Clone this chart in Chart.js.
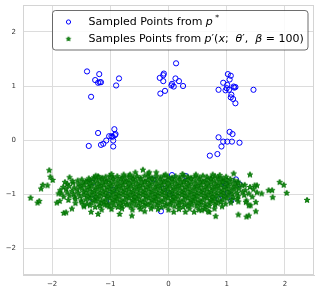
<!DOCTYPE html>
<html>
<head>
<meta charset="utf-8">
<script src="https://cdn.jsdelivr.net/npm/chart.js@4.4.1/dist/chart.umd.min.js"></script>
<style>
  html, body { margin: 0; padding: 0; background: #fff; }
  canvas { display: block; }
</style>
</head>
<body>
<canvas id="scatterChart" width="319" height="294"></canvas>
<script>
// tick positions of both axes
var xTicks = [-2, -1, 0, 1, 2];
var yTicks = [-2, -1, 0, 1, 2];

// sampled points from p* (blue circles)
var sampledPoints = [
    [-1.40, 1.27], [-1.19, 1.22], [-1.26, 1.11], [-1.18, 1.07], [-1.16, 1.07], [-0.85, 1.14], [-0.90, 1.01], [-1.33, 0.80], [-1.21, 1.06],
    [0.13, 1.42], [-0.08, 1.23], [-0.09, 1.20], [-0.15, 1.15], [-0.09, 1.09], [0.12, 1.14], [0.18, 1.09], [0.06, 1.04], [0.09, 0.99], [0.05, 1.01], [0.25, 1.00], [-0.06, 0.91], [-0.14, 0.86],
    [1.02, 1.22], [1.07, 1.19], [1.05, 1.12], [0.94, 1.06], [1.01, 1.02], [1.12, 0.99], [1.15, 0.98], [0.86, 0.93], [0.98, 0.92], [1.04, 0.93], [1.08, 0.84], [1.07, 0.79], [1.11, 0.76], [1.15, 0.68], [1.46, 0.93], [1.00, 0.96], [1.13, 0.97],
    [-1.21, 0.13], [-0.93, 0.20], [-0.91, 0.11], [-0.98, 0.07], [-1.02, 0.07], [-0.96, 0.06], [-1.07, -0.01], [-0.95, -0.01], [-1.12, -0.07], [-1.16, -0.09], [-1.37, -0.11], [-0.95, -0.12], [-0.92, 0.09],
    [0.86, 0.05], [1.05, 0.15], [1.10, 0.11], [0.94, -0.03], [1.01, -0.03], [1.09, -0.03], [1.22, -0.05], [0.91, -0.12], [0.71, -0.29], [0.84, -0.26],
    [-1.31, -0.79], [-1.31, -1.09], [-1.07, -1.15], [-0.95, -0.92], [-1.02, -1.02],
    [-0.26, -0.73], [0.06, -0.65], [0.30, -0.67], [-0.13, -1.32], [0.02, -1.00], [-0.08, -0.90],
    [0.97, -0.81], [0.99, -0.84], [1.16, -0.73], [1.22, -0.82], [0.86, -1.09], [1.08, -1.12], [1.02, -0.98]
];

// samples from p'(x; theta', beta=100), dense band (green stars)
var modelCore = [
    [-1.28,-0.69],[-1.21,-0.67],[-1.14,-0.70],[-1.08,-0.68],[-1.01,-0.66],[-0.95,-0.69],[-0.88,-0.67],[-0.81,-0.70],[-0.75,-0.68],[-0.68,-0.66],[-0.61,-0.69],[-0.54,-0.67],[-0.48,-0.70],[-0.41,-0.66],[-0.34,-0.68],[-0.28,-0.70],[-0.21,-0.67],[-0.14,-0.69],[-0.08,-0.66],[-0.01,-0.68],[0.06,-0.70],[0.12,-0.67],[0.19,-0.69],[0.26,-0.66],[0.33,-0.68],[0.39,-0.70],[0.46,-0.67],[0.53,-0.69],[0.59,-0.66],[0.66,-0.68],[0.73,-0.70],[0.80,-0.67],[0.86,-0.69],[0.93,-0.71],[0.99,-0.68],
    [-1.56,-0.75],[-1.49,-0.73],[-1.42,-0.76],[-1.35,-0.74],[-1.29,-0.72],[-1.22,-0.75],[-1.15,-0.73],[-1.08,-0.76],[-1.02,-0.74],[-0.95,-0.72],[-0.88,-0.75],[-0.82,-0.73],[-0.75,-0.76],[-0.68,-0.74],[-0.61,-0.72],[-0.55,-0.75],[-0.48,-0.73],[-0.41,-0.76],[-0.35,-0.74],[-0.28,-0.72],[-0.21,-0.75],[-0.14,-0.73],[-0.08,-0.76],[-0.01,-0.74],[0.06,-0.72],[0.12,-0.75],[0.19,-0.73],[0.26,-0.76],[0.32,-0.74],[0.39,-0.72],[0.46,-0.75],[0.53,-0.73],[0.59,-0.76],[0.66,-0.74],[0.73,-0.72],[0.79,-0.75],[0.86,-0.73],[0.93,-0.76],[1.00,-0.74],[1.06,-0.72],[1.13,-0.75],[1.19,-0.77],
    [-1.74,-0.81],[-1.64,-0.79],[-1.55,-0.82],[-1.48,-0.80],[-1.41,-0.78],[-1.35,-0.81],[-1.28,-0.79],[-1.21,-0.82],[-1.15,-0.80],[-1.08,-0.78],[-1.01,-0.81],[-0.95,-0.79],[-0.88,-0.82],[-0.81,-0.80],[-0.74,-0.78],[-0.68,-0.81],[-0.61,-0.79],[-0.54,-0.82],[-0.48,-0.80],[-0.41,-0.78],[-0.34,-0.81],[-0.28,-0.79],[-0.21,-0.82],[-0.14,-0.80],[-0.07,-0.78],[-0.01,-0.81],[0.06,-0.79],[0.13,-0.82],[0.19,-0.80],[0.26,-0.78],[0.33,-0.81],[0.39,-0.79],[0.46,-0.82],[0.53,-0.80],[0.60,-0.78],[0.66,-0.81],[0.73,-0.79],[0.80,-0.82],[0.86,-0.80],[0.93,-0.78],[1.00,-0.81],[1.06,-0.79],[1.13,-0.82],[1.20,-0.80],[1.31,-0.83],
    [-1.81,-0.87],[-1.71,-0.85],[-1.62,-0.88],[-1.52,-0.86],[-1.45,-0.84],[-1.38,-0.87],[-1.32,-0.85],[-1.25,-0.88],[-1.18,-0.86],[-1.11,-0.84],[-1.05,-0.87],[-0.98,-0.85],[-0.91,-0.88],[-0.85,-0.86],[-0.78,-0.84],[-0.71,-0.87],[-0.64,-0.85],[-0.58,-0.88],[-0.51,-0.86],[-0.44,-0.84],[-0.38,-0.87],[-0.31,-0.85],[-0.24,-0.88],[-0.18,-0.86],[-0.11,-0.84],[-0.04,-0.87],[0.03,-0.85],[0.09,-0.88],[0.16,-0.86],[0.23,-0.84],[0.29,-0.87],[0.36,-0.85],[0.43,-0.88],[0.49,-0.86],[0.56,-0.84],[0.63,-0.87],[0.70,-0.85],[0.76,-0.88],[0.83,-0.86],[0.90,-0.84],[0.96,-0.87],[1.03,-0.85],[1.10,-0.88],[1.17,-0.86],[1.26,-0.84],[1.40,-0.87],
    [-1.86,-0.93],[-1.76,-0.91],[-1.66,-0.94],[-1.57,-0.92],[-1.49,-0.90],[-1.42,-0.93],[-1.35,-0.91],[-1.28,-0.94],[-1.22,-0.92],[-1.15,-0.90],[-1.08,-0.93],[-1.01,-0.91],[-0.95,-0.94],[-0.88,-0.92],[-0.81,-0.90],[-0.75,-0.93],[-0.68,-0.91],[-0.61,-0.94],[-0.54,-0.92],[-0.48,-0.90],[-0.41,-0.93],[-0.34,-0.91],[-0.28,-0.94],[-0.21,-0.92],[-0.14,-0.90],[-0.08,-0.93],[-0.01,-0.91],[0.06,-0.94],[0.12,-0.92],[0.19,-0.90],[0.26,-0.93],[0.33,-0.91],[0.39,-0.94],[0.46,-0.92],[0.53,-0.90],[0.59,-0.93],[0.66,-0.91],[0.73,-0.94],[0.79,-0.92],[0.86,-0.90],[0.93,-0.93],[1.00,-0.91],[1.06,-0.94],[1.13,-0.92],[1.21,-0.90],[1.32,-0.93],[1.46,-0.91],
    [-1.84,-0.99],[-1.74,-0.97],[-1.63,-1.00],[-1.55,-0.98],[-1.46,-0.96],[-1.39,-0.99],[-1.32,-0.97],[-1.25,-1.00],[-1.18,-0.98],[-1.12,-0.96],[-1.05,-0.99],[-0.98,-0.97],[-0.91,-1.00],[-0.85,-0.98],[-0.78,-0.96],[-0.71,-0.99],[-0.65,-0.97],[-0.58,-1.00],[-0.51,-0.98],[-0.44,-0.96],[-0.38,-0.99],[-0.31,-0.97],[-0.24,-1.00],[-0.18,-0.98],[-0.11,-0.96],[-0.04,-0.99],[0.02,-0.97],[0.09,-1.00],[0.16,-0.98],[0.23,-0.96],[0.29,-0.99],[0.36,-0.97],[0.43,-1.00],[0.49,-0.98],[0.56,-0.96],[0.63,-0.99],[0.69,-0.97],[0.76,-1.00],[0.83,-0.98],[0.90,-0.96],[0.96,-0.99],[1.03,-0.97],[1.10,-1.00],[1.18,-0.98],[1.27,-0.96],[1.38,-0.99],[1.52,-0.97],
    [-1.80,-1.05],[-1.70,-1.03],[-1.61,-1.06],[-1.52,-1.04],[-1.45,-1.02],[-1.38,-1.05],[-1.32,-1.03],[-1.25,-1.06],[-1.18,-1.04],[-1.11,-1.02],[-1.05,-1.05],[-0.98,-1.03],[-0.91,-1.06],[-0.85,-1.04],[-0.78,-1.02],[-0.71,-1.05],[-0.64,-1.03],[-0.58,-1.06],[-0.51,-1.04],[-0.44,-1.02],[-0.38,-1.05],[-0.31,-1.03],[-0.24,-1.06],[-0.18,-1.04],[-0.11,-1.02],[-0.04,-1.05],[0.03,-1.03],[0.09,-1.06],[0.16,-1.04],[0.23,-1.02],[0.29,-1.05],[0.36,-1.03],[0.43,-1.06],[0.49,-1.04],[0.56,-1.02],[0.63,-1.05],[0.70,-1.03],[0.76,-1.06],[0.83,-1.04],[0.90,-1.02],[0.96,-1.05],[1.03,-1.03],[1.11,-1.06],[1.20,-1.04],[1.30,-1.02],[1.44,-1.05],
    [-1.72,-1.11],[-1.60,-1.09],[-1.50,-1.12],[-1.42,-1.10],[-1.35,-1.08],[-1.28,-1.11],[-1.22,-1.09],[-1.15,-1.12],[-1.08,-1.10],[-1.01,-1.08],[-0.95,-1.11],[-0.88,-1.09],[-0.81,-1.12],[-0.75,-1.10],[-0.68,-1.08],[-0.61,-1.11],[-0.54,-1.09],[-0.48,-1.12],[-0.41,-1.10],[-0.34,-1.08],[-0.28,-1.11],[-0.21,-1.09],[-0.14,-1.12],[-0.08,-1.10],[-0.01,-1.08],[0.06,-1.11],[0.12,-1.09],[0.19,-1.12],[0.26,-1.10],[0.33,-1.08],[0.39,-1.11],[0.46,-1.09],[0.53,-1.12],[0.59,-1.10],[0.66,-1.08],[0.73,-1.11],[0.79,-1.09],[0.86,-1.12],[0.93,-1.10],[1.00,-1.08],[1.08,-1.11],[1.18,-1.09],[1.34,-1.12],
    [-1.60,-1.17],[-1.49,-1.15],[-1.40,-1.18],[-1.32,-1.16],[-1.25,-1.14],[-1.18,-1.17],[-1.11,-1.15],[-1.05,-1.18],[-0.98,-1.16],[-0.91,-1.14],[-0.85,-1.17],[-0.78,-1.15],[-0.71,-1.18],[-0.64,-1.16],[-0.58,-1.14],[-0.51,-1.17],[-0.44,-1.15],[-0.38,-1.18],[-0.31,-1.16],[-0.24,-1.14],[-0.18,-1.17],[-0.11,-1.15],[-0.04,-1.18],[0.03,-1.16],[0.09,-1.14],[0.16,-1.17],[0.23,-1.15],[0.29,-1.18],[0.36,-1.16],[0.43,-1.14],[0.49,-1.17],[0.56,-1.15],[0.63,-1.18],[0.70,-1.16],[0.76,-1.14],[0.83,-1.17],[0.90,-1.15],[0.98,-1.18],[1.07,-1.16],[1.20,-1.14],
    [-1.45,-1.23],[-1.35,-1.21],[-1.26,-1.24],[-1.18,-1.22],[-1.10,-1.20],[-1.02,-1.23],[-0.94,-1.21],[-0.87,-1.24],[-0.80,-1.22],[-0.72,-1.20],[-0.65,-1.23],[-0.57,-1.21],[-0.50,-1.24],[-0.42,-1.22],[-0.35,-1.20],[-0.27,-1.23],[-0.20,-1.21],[-0.12,-1.24],[-0.05,-1.22],[0.03,-1.20],[0.10,-1.23],[0.18,-1.21],[0.25,-1.24],[0.33,-1.22],[0.40,-1.20],[0.48,-1.23],[0.55,-1.21],[0.63,-1.24],[0.70,-1.22],[0.80,-1.20],[0.92,-1.23],
    [-1.15,-1.29],[-0.98,-1.28],[-0.80,-1.27],[-0.62,-1.29],[-0.48,-1.28],[-0.30,-1.27],[-0.18,-1.28],[0.00,-1.29],[0.18,-1.28],[0.36,-1.27],[0.52,-1.29],[0.62,-1.28],[0.79,-1.27]
];

// scattered tails of the same samples
var modelTails = [
    [-0.98,-0.63],[-0.66,-0.64],[-0.35,-0.62],[-0.05,-0.64],[0.24,-0.63],[0.47,-0.64],[0.88,-0.65],[-1.25,-0.66],
    [-2.37,-1.07],[-2.25,-1.16],[-2.22,-1.13],[-2.19,-0.90],[-2.16,-0.83],[-2.08,-0.84],[-2.05,-0.56],[-2.03,-0.68],
    [-1.99,-0.74],[-1.92,-1.16],[-1.89,-0.99],[-1.87,-1.13],[-1.80,-1.35],[-1.76,-1.34],[-1.70,-0.69],[-1.65,-0.76],
    [-1.78,-0.78],[-1.66,-1.27],[-1.46,-1.21],[-1.37,-0.71],[-1.20,-0.69],[-1.33,-1.33],[-1.21,-1.37],[-1.05,-1.21],
    [-0.84,-1.37],[-0.77,-0.64],[-0.63,-1.40],[-0.57,-0.60],[-0.44,-0.55],[-0.33,-0.60],[-0.21,-0.60],[-0.41,-1.32],
    [0.09,-1.33],[0.29,-1.33],[0.44,-1.33],[0.57,-1.30],[0.70,-1.33],[0.81,-1.41],[0.76,-0.64],[1.12,-0.62],
    [1.40,-0.64],[1.20,-1.38],[1.34,-1.42],[1.38,-1.40],[1.50,-1.32],[1.41,-1.21],[1.33,-1.15],[1.60,-0.99],
    [1.52,-0.84],[1.48,-0.84],[1.72,-0.93],[1.78,-0.93],[1.79,-1.06],[1.91,-0.78],[1.98,-0.83],[2.03,-0.98],
    [2.38,-1.11],[1.50,-1.15],[1.38,-1.21],[0.68,-1.32]
];

var legendLabels = ['Sampled Points from ', 'Samples Points from '];

function toXY(list) {
    return list.map(function (p) { return { x: p[0], y: p[1] }; });
}

function minusLabel(v) {
    return v < 0 ? '\u2212' + Math.abs(v) : String(v);
}

// filled star marker like matplotlib '*'
function makeStar(outer, inner) {
    var c = document.createElement('canvas');
    c.width = 8; c.height = 8;
    var g = c.getContext('2d');
    g.beginPath();
    for (var i = 0; i < 10; i++) {
        var r = i % 2 === 0 ? outer : inner;
        var a = -Math.PI / 2 + i * Math.PI / 5;
        var px = 4 + r * Math.cos(a), py = 4.2 + r * Math.sin(a);
        if (i === 0) g.moveTo(px, py); else g.lineTo(px, py);
    }
    g.closePath();
    g.fillStyle = 'rgb(20,140,20)';
    g.fill();
    g.lineWidth = 0.9;
    g.strokeStyle = '#006e00';
    g.stroke();
    return c;
}
var starImg = makeStar(2.9, 1.25);
var legendStar = makeStar(2.3, 1.0);

function drawRuns(ctx, x, y, runs) {
    runs.forEach(function (r) {
        ctx.font = r.font;
        ctx.fillText(r.t, x, y + (r.dy || 0));
        x += ctx.measureText(r.t).width;
    });
}

var frameAndLegend = {
    id: 'frameAndLegend',
    afterDraw: function (chart) {
        var ctx = chart.ctx, a = chart.chartArea;
        ctx.save();
        ctx.strokeStyle = '#d4d4d4';
        ctx.lineWidth = 1;
        ctx.strokeRect(a.left + 0.5, a.top + 0.5, a.right - a.left - 1, a.bottom - a.top - 1);

        var bx = a.left + 29.5, by = a.top + 5.5;
        ctx.beginPath();
        ctx.roundRect(bx, by, 255.5, 39.5, 3);
        ctx.fillStyle = 'rgba(255,255,255,0.85)';
        ctx.fill();
        ctx.strokeStyle = 'rgba(40,40,40,0.85)';
        ctx.lineWidth = 0.8;
        ctx.stroke();

        ctx.beginPath();
        ctx.arc(bx + 16, by + 11.5, 2.1, 0, Math.PI * 2);
        ctx.strokeStyle = '#0000ff';
        ctx.lineWidth = 1;
        ctx.stroke();
        ctx.drawImage(legendStar, bx + 16 - 4, by + 28.5 - 4.2);

        var n = '11px "DejaVu Sans"', it = 'italic 11px "DejaVu Sans"', sm = '7.5px "DejaVu Sans"';
        ctx.fillStyle = '#000';
        ctx.textBaseline = 'middle';
        ctx.textAlign = 'left';
        var tx = bx + 36;
        drawRuns(ctx, tx, by + 11.5, [
            { t: legendLabels[0], font: n },
            { t: 'p', font: it },
            { t: ' *', font: sm, dy: -4 }
        ]);
        drawRuns(ctx, tx, by + 28.5, [
            { t: legendLabels[1], font: n },
            { t: 'p', font: it },
            { t: '\u2032(', font: n },
            { t: 'x', font: it },
            { t: ';  ', font: n },
            { t: '\u03b8', font: it },
            { t: '\u2032,  ', font: n },
            { t: '\u03b2', font: it },
            { t: ' = 100)', font: n }
        ]);
        ctx.restore();
    }
};

var ctx = document.getElementById('scatterChart').getContext('2d');

var tickFont = { family: 'DejaVu Sans', size: 7 };

var myChart = new Chart(ctx, {
    type: 'scatter',
    data: {
        datasets: [{
            label: 'Sampled Points from p*',
            data: toXY(sampledPoints),
            pointStyle: 'circle',
            pointRadius: 2.6,
            borderColor: '#0000ff',
            backgroundColor: 'rgba(0,0,0,0)',
            borderWidth: 1,
            order: 2
        }, {
            label: "Samples Points from p'(x; θ', β=100)",
            data: toXY(modelCore.concat(modelTails)),
            pointStyle: starImg,
            pointRadius: 3,
            order: 1
        }]
    },
    options: {
        responsive: false,
        animation: false,
        devicePixelRatio: 1,
        layout: { autoPadding: false, padding: { top: 5, right: 5, left: 0, bottom: 0 } },
        plugins: { legend: { display: false }, tooltip: { enabled: false } },
        scales: {
            x: {
                type: 'linear',
                min: -2.5,
                max: 2.5,
                afterBuildTicks: function (s) { s.ticks = xTicks.map(function (v) { return { value: v }; }); },
                afterFit: function (s) { s.height = 19; s.paddingLeft = 0; s.paddingRight = 0; },
                grid: { color: '#dcdcdc', lineWidth: 1, drawTicks: false },
                border: { color: '#d4d4d4' },
                ticks: { font: tickFont, color: '#333', padding: 5, maxRotation: 0, callback: minusLabel }
            },
            y: {
                type: 'linear',
                min: -2.5,
                max: 2.5,
                afterBuildTicks: function (s) { s.ticks = yTicks.map(function (v) { return { value: v }; }); },
                afterFit: function (s) { s.width = 23; s.paddingTop = 0; s.paddingBottom = 0; },
                grid: { color: '#dcdcdc', lineWidth: 1, drawTicks: false },
                border: { color: '#d4d4d4' },
                ticks: { font: tickFont, color: '#333', padding: 7, callback: minusLabel }
            }
        }
    },
    plugins: [frameAndLegend]
});
</script>
</body>
</html>
